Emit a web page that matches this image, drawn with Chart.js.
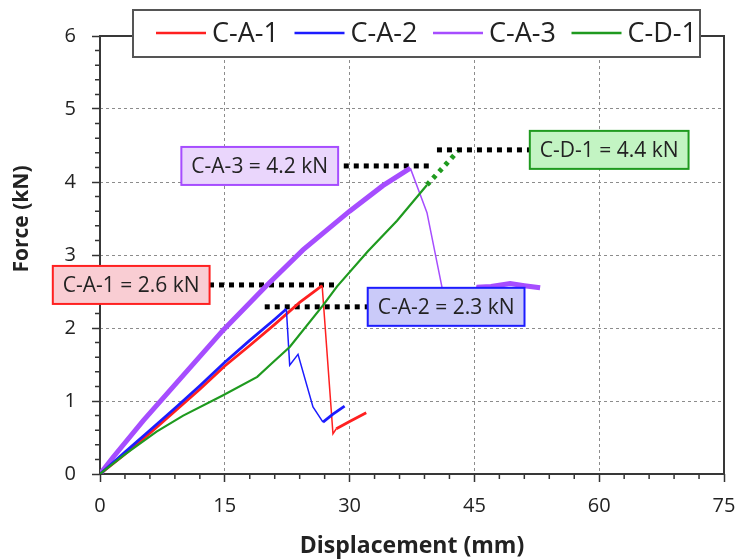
<!DOCTYPE html>
<html>
<head>
<meta charset="utf-8">
<script src="https://cdn.jsdelivr.net/npm/chart.js@4"></script>
<style>
  html, body { margin: 0; padding: 0; background: #fff; }
  #wrap { width: 739px; height: 560px; }
</style>
</head>
<body>
<div id="wrap"><canvas id="chart" width="739" height="560"></canvas></div>
<script>
const FONT = "'Open Sans', 'Noto Sans', sans-serif";

// series labels + colours
const seriesNames = ["C-A-1", "C-A-2", "C-A-3", "C-D-1"];
const seriesColors = ["#ff2020", "#1c1cff", "#a64dff", "#1f9a1f"];
const boxFills = ["#f9cdd3", "#cacaf9", "#ead6fc", "#c3f4c3"];

// C-A-1
const ca1X = [0, 1, 3, 6, 9, 12, 15, 18, 21, 24, 26.7, 28.0, 28.4, 30, 32];
const ca1Y = [0, 0.09, 0.27, 0.56, 0.86, 1.16, 1.48, 1.76, 2.05, 2.35, 2.58, 0.55, 0.62, 0.72, 0.84];
// C-A-2
const ca2X = [0, 1, 3, 6, 9, 12, 15, 18, 21, 22.4, 22.8, 23.8, 25.6, 26.8, 28, 29.4];
const ca2Y = [0, 0.1, 0.3, 0.6, 0.9, 1.21, 1.53, 1.83, 2.12, 2.26, 1.49, 1.64, 0.92, 0.71, 0.82, 0.93];
// C-A-3
const ca3X = [0, 1.5, 5.2, 10, 14.8, 20, 24.4, 30, 34, 37.3, 39.3, 41.1, 42.3, 45.0, 45.5, 47, 49.3, 51, 52.9];
const ca3Y = [0, 0.22, 0.73, 1.35, 1.97, 2.58, 3.07, 3.6, 3.95, 4.19, 3.58, 2.56, 2.3, 2.32, 2.56, 2.57, 2.61, 2.58, 2.55];
// C-D-1 (last segment is the dotted extrapolation)
const cd1X = [0, 1, 3, 6.8, 10, 14.8, 18.9, 20.5, 22.8, 26.8, 28.5, 32.2, 35.7, 39.3, 43.0];
const cd1Y = [0, 0.09, 0.27, 0.58, 0.8, 1.08, 1.33, 1.5, 1.74, 2.31, 2.57, 3.05, 3.47, 3.96, 4.42];

// peak annotations
const peakLabels = ["C-A-1 = 2.6 kN", "C-A-2 = 2.3 kN", "C-A-3 = 4.2 kN", "C-D-1 = 4.4 kN"];
const peakForce = [2.59, 2.29, 4.22, 4.44];
const leaderFrom = [13.1, 19.8, 29.3, 40.5];
const leaderTo = [28.2, 32.2, 39.9, 51.6];
const labelAtX = [3.75, 41.6, 19.2, 61.2];

// axes
const xTicks = [0, 15, 30, 45, 60, 75];
const yTicks = [0, 1, 2, 3, 4, 5, 6];

const pts = (xs, ys) => xs.map((x, i) => ({ x: x, y: ys[i] }));

// thin segments where the specimen fails (between index a and b)
const thinBetween = (a, b, thick, thin) => (c) =>
  (c.p0DataIndex >= a && c.p0DataIndex < b) ? thin : thick;

const series = [
  { label: seriesNames[0], data: pts(ca1X, ca1Y), borderColor: seriesColors[0], order: 2,
    segment: { borderWidth: thinBetween(10, 12, 2.8, 1.5) } },
  { label: seriesNames[1], data: pts(ca2X, ca2Y), borderColor: seriesColors[1], order: 1,
    segment: { borderWidth: thinBetween(9, 13, 2.8, 1.5) } },
  { label: seriesNames[2], data: pts(ca3X, ca3Y), borderColor: seriesColors[2], order: 3,
    segment: { borderWidth: thinBetween(9, 13, 5, 1.5) } },
  { label: seriesNames[3], data: pts(cd1X, cd1Y), borderColor: seriesColors[3], order: 0,
    segment: {
      borderWidth: (c) => c.p0DataIndex >= cd1X.length - 2 ? 5 : 2.2,
      borderDash: (c) => c.p0DataIndex >= cd1X.length - 2 ? [4, 5] : undefined
    } }
];

const leaders = peakLabels.map((t, i) => ({
  label: "_lead" + i,
  data: [{ x: leaderFrom[i], y: peakForce[i] }, { x: leaderTo[i], y: peakForce[i] }],
  borderColor: "#000",
  borderWidth: 5,
  borderDash: [5, 5],
  order: 5
}));

const frameAndMinor = {
  id: "frameAndMinor",
  beforeDatasetsDraw(chart) {
    const { ctx, chartArea: a, scales: { x, y } } = chart;
    ctx.save();
    ctx.strokeStyle = "#333";
    ctx.lineWidth = 1.5;
    ctx.beginPath();
    for (let v = 0; v <= 75; v += 3) {
      if (v % 15 === 0) continue;
      const px = x.getPixelForValue(v);
      ctx.moveTo(px, a.bottom);
      ctx.lineTo(px, a.bottom + 5);
    }
    for (let i = 0; i <= 30; i++) {
      if (i % 5 === 0) continue;
      const py = y.getPixelForValue(i / 5);
      ctx.moveTo(a.left - 5, py);
      ctx.lineTo(a.left, py);
    }
    ctx.stroke();
    ctx.lineWidth = 2;
    ctx.strokeStyle = "#383838";
    ctx.strokeRect(a.left, a.top, a.right - a.left, a.bottom - a.top);
    // y axis title (sits above the middle of the axis)
    ctx.translate(22, 219);
    ctx.rotate(-Math.PI / 2);
    ctx.font = "bold 21px " + FONT;
    ctx.fillStyle = "#222";
    ctx.textAlign = "center";
    ctx.textBaseline = "middle";
    ctx.fillText("Force (kN)", 0, 0);
    ctx.restore();
  }
};

const peakBoxes = {
  id: "peakBoxes",
  afterDatasetsDraw(chart) {
    const { ctx, scales: { x, y } } = chart;
    ctx.save();
    ctx.font = "21px " + FONT;
    ctx.textAlign = "center";
    ctx.textBaseline = "middle";
    peakLabels.forEach((t, i) => {
      const cx = x.getPixelForValue(labelAtX[i]);
      const cy = y.getPixelForValue(peakForce[i]);
      const w = ctx.measureText(t).width + 20, h = 38;
      ctx.fillStyle = boxFills[i];
      ctx.fillRect(cx - w / 2, cy - h / 2, w, h);
      ctx.lineWidth = 2;
      ctx.strokeStyle = seriesColors[i];
      ctx.strokeRect(cx - w / 2, cy - h / 2, w, h);
      ctx.fillStyle = "#222";
      ctx.fillText(t, cx, cy + 1);
    });
    ctx.restore();
  }
};

const boxLegend = {
  id: "boxLegend",
  afterDraw(chart) {
    const { ctx } = chart;
    ctx.save();
    ctx.fillStyle = "#fff";
    ctx.fillRect(133, 10, 567, 47);
    ctx.lineWidth = 2;
    ctx.strokeStyle = "#555";
    ctx.strokeRect(133, 10, 567, 47);
    ctx.font = "27px " + FONT;
    ctx.textBaseline = "middle";
    ctx.textAlign = "left";
    let px = 156;
    const ly = 33;
    seriesNames.forEach((name, i) => {
      ctx.strokeStyle = seriesColors[i];
      ctx.lineWidth = 2.5;
      ctx.beginPath();
      ctx.moveTo(px, ly);
      ctx.lineTo(px + 50, ly);
      ctx.stroke();
      ctx.fillStyle = "#222";
      ctx.fillText(name, px + 56, ly + 1);
      px += 138.5;
    });
    ctx.restore();
  }
};

new Chart(document.getElementById("chart"), {
  type: "line",
  data: { datasets: series.concat(leaders) },
  options: {
    responsive: false,
    animation: false,
    layout: { padding: { top: 36, right: 15, left: 0, bottom: 0 } },
    elements: {
      point: { radius: 0 },
      line: { tension: 0, borderWidth: 2, fill: false }
    },
    plugins: { legend: { display: false }, tooltip: { enabled: false } },
    scales: {
      x: {
        type: "linear",
        min: 0, max: 75,
        afterBuildTicks: (s) => { s.ticks = xTicks.map(v => ({ value: v })); },
        afterFit: (s) => { s.height = 86; s.paddingLeft = 0; s.paddingRight = 0; },
        ticks: { font: { family: FONT, size: 20 }, color: "#222", padding: 12 },
        grid: { color: "#8c8c8c", lineWidth: 1, borderDash: [3, 3], tickBorderDash: [],
                tickColor: "#333", tickLength: 8, tickWidth: 1.5 },
        border: { display: false, dash: [3, 3] },
        title: { display: true, text: "Displacement (mm)", color: "#222",
                 font: { family: FONT, size: 23, weight: "bold" }, padding: { top: 0, bottom: 0 } }
      },
      y: {
        type: "linear",
        min: 0, max: 6,
        afterBuildTicks: (s) => { s.ticks = yTicks.map(v => ({ value: v })); },
        afterFit: (s) => { s.width = 100; s.paddingTop = 0; s.paddingBottom = 0; },
        ticks: { font: { family: FONT, size: 20 }, color: "#222", padding: 16 },
        grid: { color: "#8c8c8c", lineWidth: 1, borderDash: [3, 3], tickBorderDash: [],
                tickColor: "#333", tickLength: 8, tickWidth: 1.5 },
        border: { display: false, dash: [3, 3] }
      }
    }
  },
  plugins: [frameAndMinor, peakBoxes, boxLegend]
});
</script>
</body>
</html>
